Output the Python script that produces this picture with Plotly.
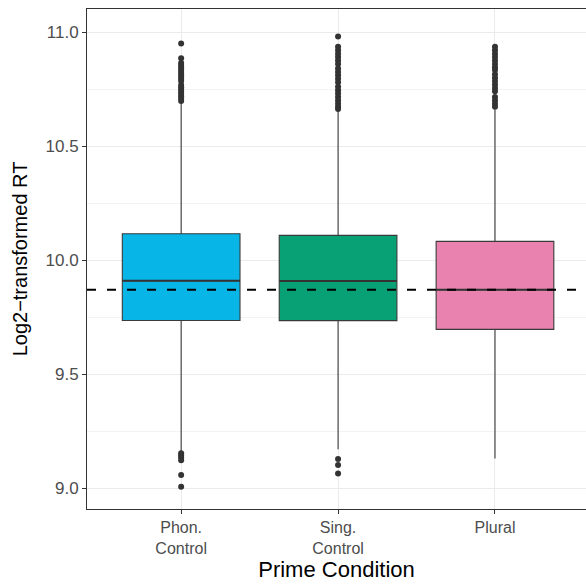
import plotly.graph_objects as go

categories = ["Phon.<br>Control", "Sing.<br>Control", "Plural"]
q1 = [9.735, 9.734, 9.696]
median = [9.909, 9.908, 9.870]
q3 = [10.115, 10.108, 10.082]
lower_whisker = [9.160, 9.170, 9.130]
upper_whisker = [10.690, 10.655, 10.660]
fill_colors = ["rgba(0,179,230,0.97)", "rgba(0,158,114,0.97)", "rgba(232,126,172,0.97)"]
overall_mean = [9.870]

outliers = [
    [10.95, 10.885, 10.864, 10.855, 10.845, 10.835, 10.825, 10.815, 10.805, 10.795,
     10.785, 10.768, 10.758, 10.748, 10.738, 10.728, 10.718, 10.708, 10.698,
     9.152, 9.143, 9.134, 9.122, 9.057, 9.006],
    [10.98, 10.935, 10.92, 10.905, 10.89, 10.875, 10.86, 10.84, 10.825, 10.81,
     10.795, 10.78, 10.76, 10.745, 10.73, 10.715, 10.70, 10.685, 10.672, 10.662,
     9.127, 9.101, 9.064],
    [10.935, 10.92, 10.905, 10.89, 10.875, 10.86, 10.845, 10.833, 10.815, 10.80,
     10.785, 10.77, 10.755, 10.74, 10.715, 10.70, 10.685, 10.672],
]

y_ticks = [9.0, 9.5, 10.0, 10.5, 11.0]
y_tick_labels = ["9.0", "9.5", "10.0", "10.5", "11.0"]

fig = go.Figure()
box_w = 0.75
for i, cat in enumerate(categories):
    fig.add_trace(go.Box(
        x=[i], q1=[q1[i]], median=[median[i]], q3=[q3[i]],
        lowerfence=[lower_whisker[i]], upperfence=[upper_whisker[i]],
        width=box_w, whiskerwidth=0, fillcolor=fill_colors[i],
        line=dict(color="#3a3a3a", width=1.1), boxpoints=False,
        showlegend=False, hoverinfo="skip",
    ))
for i in range(len(categories)):
    fig.add_trace(go.Scatter(
        x=[i - box_w / 2, i + box_w / 2], y=[median[i], median[i]], mode="lines",
        line=dict(color="#333333", width=2), showlegend=False, hoverinfo="skip"))
    fig.add_trace(go.Scatter(
        x=[i] * len(outliers[i]), y=outliers[i], mode="markers",
        marker=dict(color="#333333", size=6), showlegend=False, hoverinfo="skip"))

fig.add_hline(y=overall_mean[0], line=dict(color="black", width=2, dash="9px,11px"))

fig.update_layout(
    width=586, height=587,
    margin=dict(l=87, r=0, t=9, b=78),
    paper_bgcolor="white", plot_bgcolor="white",
    font=dict(family="Liberation Sans, Arial, sans-serif"),
)
fig.update_xaxes(
    range=[-0.6, 2.58], tickvals=[0, 1, 2], ticktext=categories,
    showgrid=True, gridcolor="#EBEBEB", gridwidth=1.1,
    ticks="outside", ticklen=4, tickcolor="#333333", tickwidth=1,
    tickfont=dict(size=16, color="#4D4D4D"),
    showline=True, linecolor="#333333", linewidth=1, mirror=True,
    zeroline=False, automargin=False,
    title=dict(text="Prime Condition", font=dict(size=22, color="black"), standoff=4),
)
fig.update_yaxes(
    range=[8.908, 11.101], tickvals=y_ticks, ticktext=y_tick_labels,
    showgrid=True, gridcolor="#EBEBEB", gridwidth=1.1,
    minor=dict(showgrid=True, gridcolor="#F3F3F3", gridwidth=0.6, dtick=0.25, tick0=9.0),
    ticks="outside", ticklen=4, tickcolor="#333333", tickwidth=1,
    tickfont=dict(size=17, color="#4D4D4D"),
    showline=True, linecolor="#333333", linewidth=1, mirror=True,
    zeroline=False, automargin=False,
    title=dict(text="Log2\u2212transformed RT", font=dict(size=20, color="black"), standoff=12),
)

fig.write_html("out.html")
